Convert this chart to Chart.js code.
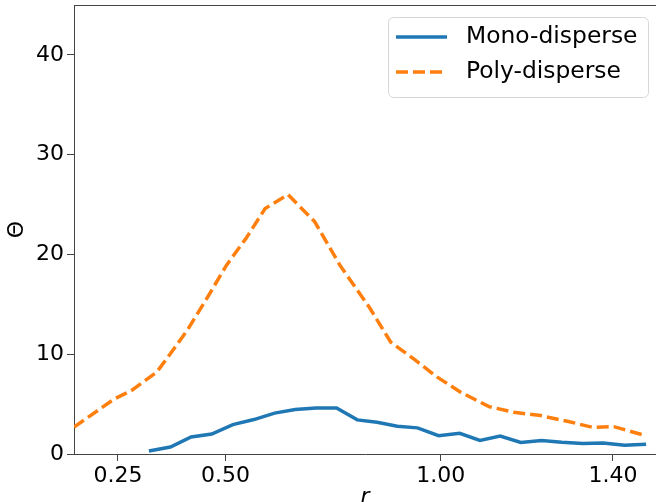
<!DOCTYPE html>
<html>
<head>
<meta charset="utf-8">
<script src="https://cdn.jsdelivr.net/npm/chart.js@4.4.1/dist/chart.umd.min.js"></script>
<style>
  body { margin: 0; background: #fff; }
  #wrap { width: 656px; height: 502px; }
</style>
</head>
<body>
<div id="wrap"><canvas id="chart"></canvas></div>
<script>
// values
const monoR = [0.322, 0.372, 0.42, 0.468, 0.517, 0.566, 0.614, 0.662, 0.71, 0.758,
  0.806, 0.852, 0.899, 0.946, 0.995, 1.044, 1.091, 1.138, 1.186, 1.234,
  1.281, 1.33, 1.377, 1.427, 1.477];
const monoTheta = [0.3, 0.7, 1.7, 2.0, 2.95, 3.45, 4.1, 4.45, 4.6, 4.6,
  3.42, 3.18, 2.78, 2.62, 1.84, 2.07, 1.36, 1.8, 1.15, 1.35,
  1.17, 1.05, 1.1, 0.88, 0.98];

const polyR = [0.148, 0.241, 0.281, 0.34, 0.371, 0.411, 0.458, 0.502, 0.549, 0.592,
  0.645, 0.707, 0.766, 0.834, 0.884, 0.938, 0.992, 1.046, 1.112, 1.17,
  1.232, 1.294, 1.352, 1.402, 1.468];
const polyTheta = [2.7, 5.5, 6.35, 8.2, 10.0, 12.4, 15.7, 18.9, 21.7, 24.6,
  26.0, 23.3, 18.9, 14.7, 11.2, 9.5, 7.7, 6.2, 4.75, 4.18,
  3.85, 3.28, 2.68, 2.74, 1.94];

const xTicks = [0.25, 0.5, 1.0, 1.4];
const yTicks = [0, 10, 20, 30, 40];

const toPoints = (xs, ys) => xs.map((x, i) => ({ x: x, y: ys[i] }));

const font = { family: "DejaVu Sans", size: 22 };
const axisColor = "#444";

// top spine and boxed legend, matplotlib style
const framePlugin = {
  id: "frame",
  afterDraw(chart) {
    const ctx = chart.ctx;
    const area = chart.chartArea;
    ctx.save();
    ctx.strokeStyle = axisColor;
    ctx.lineWidth = 1;
    ctx.beginPath();
    ctx.moveTo(area.left, area.top + 0.5);
    ctx.lineTo(area.right, area.top + 0.5);
    ctx.stroke();

    // legend box
    const bx = 388.5, by = 17.5, bw = 260, bh = 80, r = 5;
    ctx.fillStyle = "rgba(255,255,255,0.8)";
    ctx.strokeStyle = "#d6d6d6";
    ctx.beginPath();
    ctx.roundRect(bx, by, bw, bh, r);
    ctx.fill();
    ctx.stroke();

    chart.data.datasets.forEach((ds, i) => {
      const y = 37 + i * 35;
      ctx.strokeStyle = ds.borderColor;
      ctx.lineWidth = ds.borderWidth;
      ctx.setLineDash(ds.borderDash || []);
      ctx.beginPath();
      ctx.moveTo(396, y);
      ctx.lineTo(447, y);
      ctx.stroke();
      ctx.setLineDash([]);
      ctx.fillStyle = "#000";
      ctx.font = "23.4px 'DejaVu Sans'";
      ctx.textBaseline = "middle";
      ctx.fillText(ds.label, 466, y);
    });
    ctx.restore();
  },
};

new Chart(document.getElementById("chart"), {
  type: "line",
  data: {
    datasets: [
      {
        label: "Mono-disperse",
        data: toPoints(monoR, monoTheta),
        borderColor: "#1f77b4",
        borderWidth: 3.5,
        pointRadius: 0,
        tension: 0,
        fill: false,
      },
      {
        label: "Poly-disperse",
        data: toPoints(polyR, polyTheta),
        borderColor: "#ff7f0e",
        borderWidth: 3.5,
        borderDash: [12, 5],
        pointRadius: 0,
        tension: 0,
        fill: false,
      },
    ],
  },
  options: {
    responsive: true,
    maintainAspectRatio: false,
    animation: false,
    layout: { padding: { top: 5, left: 0, right: 0, bottom: 0 } },
    plugins: {
      legend: { display: false },
      tooltip: { enabled: false },
    },
    scales: {
      x: {
        type: "linear",
        min: 0.148,
        max: 1.5,
        afterBuildTicks: (s) => {
          s.ticks = xTicks.map((v) => ({ value: v }));
        },
        afterFit: (s) => {
          s.height = 48;
          s.paddingLeft = 0;
          s.paddingRight = 0;
        },
        ticks: {
          color: "#000",
          font: font,
          padding: 2,
          maxRotation: 0,
          autoSkip: false,
          callback: (v) => Number(v).toFixed(2),
        },
        grid: {
          drawOnChartArea: false,
          drawTicks: true,
          tickLength: 7,
          color: axisColor,
        },
        border: { display: true, color: axisColor, width: 1 },
        title: {
          display: true,
          text: "r",
          color: "#000",
          font: { family: "DejaVu Sans", size: 22, style: "italic" },
          padding: { top: 0, bottom: -8 },
        },
      },
      y: {
        min: 0,
        max: 45,
        afterBuildTicks: (s) => {
          s.ticks = yTicks.map((v) => ({ value: v }));
        },
        afterFit: (s) => {
          s.width = 74;
          s.paddingTop = 0;
          s.paddingBottom = 0;
        },
        ticks: {
          color: "#000",
          font: font,
          padding: 3,
        },
        grid: {
          drawOnChartArea: false,
          drawTicks: true,
          tickLength: 7,
          color: axisColor,
        },
        border: { display: true, color: axisColor, width: 1 },
        title: {
          display: true,
          text: "Θ",
          color: "#000",
          font: font,
          padding: { top: 4, bottom: 0 },
        },
      },
    },
  },
  plugins: [framePlugin],
});
</script>
</body>
</html>
